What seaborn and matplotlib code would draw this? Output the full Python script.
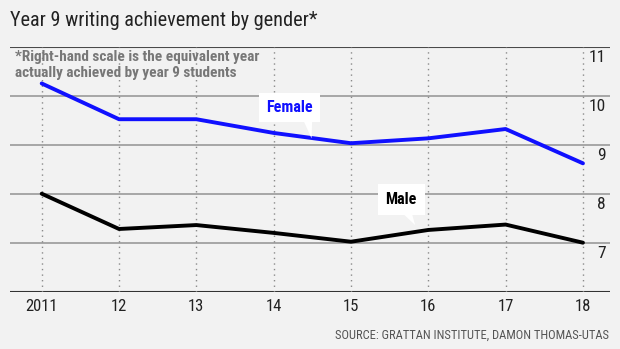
import matplotlib
matplotlib.use("Agg")
import matplotlib.pyplot as plt
import seaborn as sns
import pandas as pd
import logging

logging.getLogger("matplotlib.font_manager").setLevel(logging.ERROR)

years = [2011, 2012, 2013, 2014, 2015, 2016, 2017, 2018]
year_labels = ["2011", "12", "13", "14", "15", "16", "17", "18"]
female = [10.25, 9.52, 9.52, 9.24, 9.03, 9.13, 9.32, 8.62]
male = [8.0, 7.28, 7.36, 7.2, 7.02, 7.26, 7.37, 7.0]
right_ticks = [7, 8, 9, 10, 11]

BG = "#f2f2f2"
sns.set_style("white", {"axes.facecolor": BG, "figure.facecolor": BG})
FAMILY = ["Roboto Condensed", "Barlow Condensed", "Asap Condensed", "DejaVu Sans"]
plt.rcParams["font.family"] = FAMILY

df = pd.DataFrame({
    "year": years * 2,
    "value": female + male,
    "gender": ["Female"] * len(years) + ["Male"] * len(years),
})

fig = plt.figure(figsize=(6.2, 3.49), dpi=100)
ax = fig.add_axes([10 / 620, 1 - 291.7 / 349, 600 / 620, (291.7 - 46.7) / 349])
ax.set_facecolor(BG)

# grid
for v in [7, 8, 9, 10]:
    ax.axhline(v, color="#9a9a9a", lw=1.2, zorder=1)
ax.axhline(11, color="#4a4a4a", lw=1.5, zorder=1)
ax.axhline(6, color="#333333", lw=1.5, zorder=1)
for y in years:
    ax.axvline(y, color="#8a8a8a", lw=1.0, ls=(0, (1, 3)), zorder=1)

sns.lineplot(data=df, x="year", y="value", hue="gender",
             palette={"Female": "#1010ff", "Male": "#000000"},
             lw=2.8, legend=False, ax=ax, zorder=3)

ax.set_xlim(2010.59, 2018.35)
ax.set_ylim(6, 11)
for s in ax.spines.values():
    s.set_visible(False)
ax.set_xticks(years)
ax.set_xticklabels(year_labels, fontsize=12, color="#222222")
ax.tick_params(axis="x", length=0, pad=5)
ax.set_yticks([])
ax.set_xlabel("")
ax.set_ylabel("")

# right-hand scale labels
for v in right_ticks:
    ax.text(0.993, v - 0.22, str(v), transform=ax.get_yaxis_transform(),
            ha="right", va="center", fontsize=12.5, color="#222222")

# labels with pointers
ax.text(2014.21, 9.76, "Female", ha="center", va="center", fontsize=11.5,
        fontweight="bold", color="#1010ff", zorder=5,
        bbox=dict(boxstyle="square,pad=0.45", fc="white", ec="none"))
ax.fill([2014.36, 2014.50, 2014.49], [9.58, 9.58, 9.13], color="white", zorder=4, lw=0)
ax.text(2015.65, 7.88, "Male", ha="center", va="center", fontsize=11.5,
        fontweight="bold", color="#000000", zorder=5,
        bbox=dict(boxstyle="square,pad=0.5", fc="white", ec="none"))
ax.fill([2015.64, 2015.78, 2015.83], [7.64, 7.64, 7.36], color="white", zorder=4, lw=0)

# title, note, source
fig.text(10 / 620, 1 - 20 / 349, "Year 9 writing achievement by gender*",
         ha="left", va="center", fontsize=14.6, color="#222222")
fig.text(15 / 620, 1 - 65 / 349,
         "*Right-hand scale is the equivalent year\nactually achieved by year 9 students",
         ha="left", va="center", fontsize=11, fontweight="bold", color="#777777",
         linespacing=1.1)
fig.text(609 / 620, 1 - 335 / 349, "SOURCE: GRATTAN INSTITUTE, DAMON THOMAS-UTAS",
         ha="right", va="center", fontsize=9, color="#555555")

fig.savefig("out.png", dpi=100, facecolor=BG)
